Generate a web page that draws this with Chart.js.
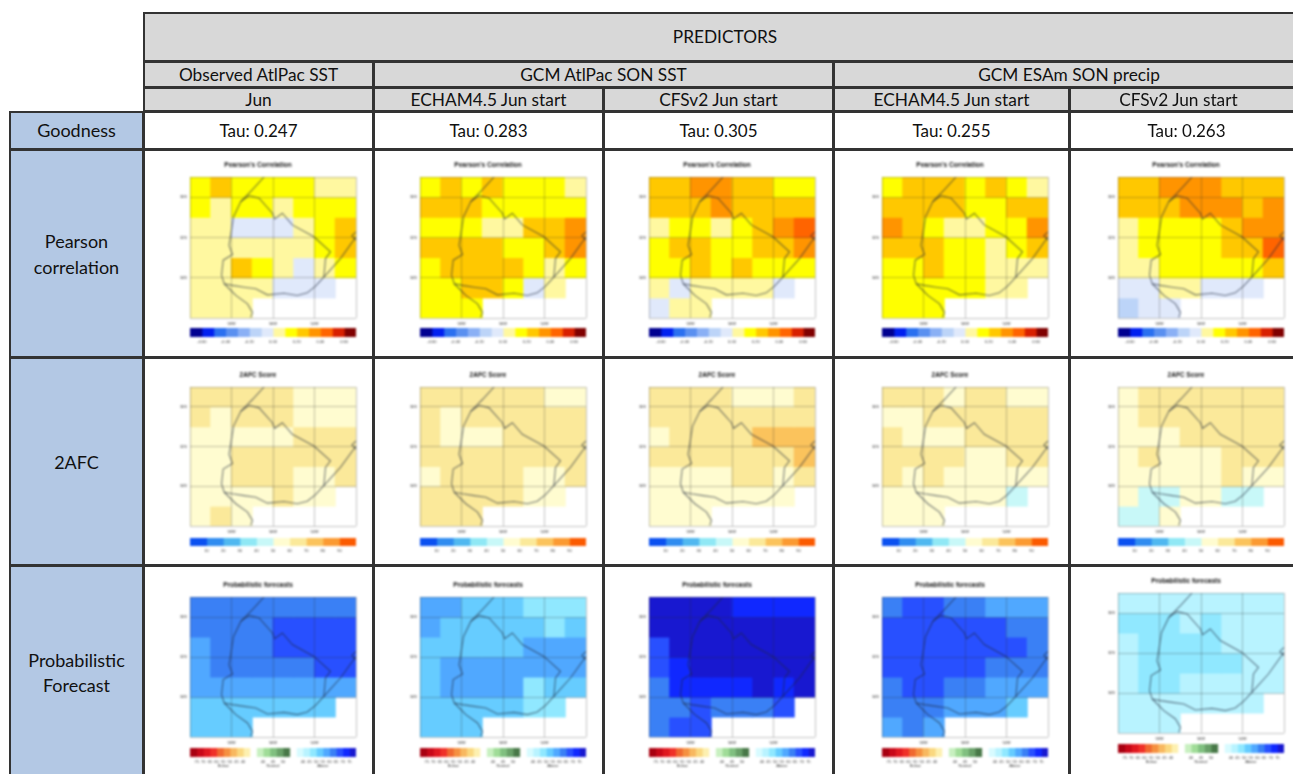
<!DOCTYPE html>
<html>
<head>
<meta charset="utf-8">
<title>Predictors</title>
<script src="https://cdn.jsdelivr.net/npm/chart.js@4"></script>
<style>
html, body { margin: 0; padding: 0; background: #fff; overflow: hidden; }
#page { position: absolute; left: 0; top: 0; width: 1293px; height: 774px; overflow: hidden; filter: blur(0.6px); font-family: Lato, "Open Sans", sans-serif; color: #111; }
#page div { position: absolute; box-sizing: border-box; display: flex; align-items: center; justify-content: center; text-align: center; }
#page span { position: relative; }
.hd { background: #d8d8d8; border: 2px solid #333; margin: -1px 0 0 -1px; font-size: 17.3px; }
.sd { background: #b3c8e4; border: 2px solid #333; margin: -1px 0 0 -1px; font-size: 18px; line-height: 25.5px; }
.ce { background: #fff; border: 2px solid #333; margin: -1px 0 0 -1px; font-size: 17px; }
canvas { position: absolute; filter: blur(0.8px); }
</style>
</head>
<body>
<div id="page"></div>
<script>
const N = null;

// table text
const groupNames = ['Observed AtlPac SST', 'GCM AtlPac SON SST', 'GCM ESAm SON precip'];
const startNames = ['Jun', 'ECHAM4.5 Jun start', 'CFSv2 Jun start', 'ECHAM4.5 Jun start', 'CFSv2 Jun start'];
const tauValues = ['Tau: 0.247', 'Tau: 0.283', 'Tau: 0.305', 'Tau: 0.255', 'Tau: 0.263'];

// map axes
const lonTicks = [-60, -58, -56, -54, -52];
const latTicks = [-36, -34, -32, -30, -29];
const lonLabels = ['', '58W', '56W', '54W', ''];
const latLabels = ['', '34S', '32S', '30S', ''];
const gridCols = ['60W', '59W', '58W', '57W', '56W', '55W', '54W', '53W'];
const gridRowTops = [-29, -30, -31, -32, -33, -34, -35];

// coastline and border, lon/lat
const borderWest = [[-56.43,-29],[-56.99,-29.63],[-57.55,-30.22],[-57.9,-30.97],[-57.98,-31.5],[-58.12,-32.4],[-57.95,-32.85],[-58.4,-33.13],[-58.48,-33.88],[-58.35,-34.3],[-57.95,-34.38],[-57.39,-34.47],[-56.83,-34.55],[-56.27,-34.85],[-55.47,-34.77],[-54.83,-34.88],[-54.35,-34.75],[-53.95,-34.42],[-53.55,-33.97],[-52.75,-33.05],[-52,-31.97]];
const borderNorth = [[-57.55,-30.22],[-57.15,-29.92],[-56.67,-30.05],[-56.03,-30.8],[-55.92,-31.08],[-55.55,-30.8],[-55.07,-31.38],[-54.03,-31.97],[-53.23,-32.72],[-53.47,-33.05],[-53.55,-33.97]];
const coastSouth = [[-58.35,-34.3],[-57.79,-34.88],[-57.23,-35.3],[-56.99,-35.72],[-57.07,-35.97]];
const lagoon = [[-52,-31.72],[-52.2,-31.92],[-52,-32.13]];
const outlines = [borderWest, borderNorth, coastSouth, lagoon];

// Pearson correlation per grid cell
const pearsonObs = [
  [.15,.25,.15,.15,.15,.15,.05,.05],
  [.15,.05,.15,.15,.05,.15,.15,.15],
  [.05,.05,-.05,-.05,-.05,.05,.15,.25],
  [.05,.05,.05,.05,.05,.05,.15,.25],
  [.05,.05,.25,.15,.05,-.05,.05,.15],
  [.05,.05,.05,.05,-.05,-.05,-.05,N],
  [.05,.05,.05,N,N,N,N,N]];
const pearsonEchamSst = [
  [.15,.25,.15,.25,.15,.15,.15,.05],
  [.25,.25,.25,.15,.15,.15,.15,.15],
  [.15,.15,.15,.05,.05,.25,.25,.35],
  [.25,.25,.25,.25,.15,.15,.25,.35],
  [.15,.25,.25,.25,.25,.15,.05,.15],
  [.15,.15,.25,.25,.15,-.05,.05,N],
  [.15,.15,.15,N,N,N,N,N]];
const pearsonCfsSst = [
  [.25,.25,.35,.35,.25,.25,.15,.15],
  [.25,.25,.25,.35,.25,.25,.25,.25],
  [.05,.15,.15,.05,.15,.25,.35,.45],
  [.15,.25,.25,.15,.15,.25,.25,.35],
  [.15,.15,.25,.15,.25,.15,.15,.15],
  [.05,-.05,.05,.05,.05,.05,-.05,N],
  [-.05,.05,.05,N,N,N,N,N]];
const pearsonEchamPrecip = [
  [.15,.25,.25,.25,.15,.25,.15,.05],
  [.25,.25,.25,.25,.15,.15,.25,.25],
  [.35,.25,.15,.05,.05,.15,.15,.35],
  [.25,.25,.25,.15,.15,.05,.15,.25],
  [.15,.15,.25,.15,.15,.05,.05,.05],
  [.15,.15,.15,.15,.15,.05,.05,N],
  [.15,.15,.15,N,N,N,N,N]];
const pearsonCfsPrecip = [
  [.25,.25,.35,.35,.35,.25,.25,.25],
  [.25,.25,.25,.35,.35,.35,.25,.35],
  [.05,.15,.15,.15,.15,.25,.35,.35],
  [.05,.15,.15,.15,.15,.25,.25,.45],
  [.05,.05,.15,.15,.15,.15,.15,.25],
  [-.05,-.05,.05,.05,-.05,-.05,-.05,N],
  [-.15,-.05,-.05,N,N,N,N,N]];

// 2AFC score per grid cell
const afcObs = [
  [65,65,65,65,65,55,55,55],
  [65,55,65,65,65,55,55,55],
  [55,55,55,55,55,65,65,65],
  [55,55,65,65,65,65,65,65],
  [55,55,65,65,65,55,55,65],
  [55,55,55,55,65,55,55,N],
  [55,65,55,N,N,N,N,N]];
const afcEchamSst = [
  [65,65,65,65,65,65,55,55],
  [65,55,65,65,65,65,65,65],
  [65,55,55,55,65,65,65,65],
  [65,65,65,65,65,65,65,65],
  [55,65,65,65,65,55,55,65],
  [65,65,65,65,65,55,55,N],
  [65,65,65,N,N,N,N,N]];
const afcCfsSst = [
  [65,65,65,65,55,55,55,65],
  [65,65,65,65,65,65,65,65],
  [55,65,65,65,65,75,75,75],
  [65,65,65,65,65,65,65,75],
  [55,55,55,55,65,65,55,65],
  [55,55,55,55,55,55,55,N],
  [55,55,55,N,N,N,N,N]];
const afcEchamPrecip = [
  [65,65,65,55,65,65,55,55],
  [55,55,65,65,65,65,65,65],
  [65,55,55,55,65,65,65,65],
  [65,65,65,65,55,55,65,65],
  [65,55,65,55,55,55,55,55],
  [55,55,55,55,55,55,45,N],
  [55,55,55,N,N,N,N,N]];
const afcCfsPrecip = [
  [55,65,65,65,65,65,65,65],
  [55,65,65,65,65,65,65,65],
  [55,55,55,65,65,65,65,65],
  [55,65,55,55,55,65,65,65],
  [55,55,55,55,55,65,55,55],
  [55,45,45,55,55,45,45,N],
  [45,45,55,N,N,N,N,N]];

// above-normal probability per grid cell
const probObs = [
  [62,62,62,62,62,62,62,62],
  [62,62,62,62,67,67,67,67],
  [57,62,62,62,67,67,67,67],
  [57,62,62,62,62,62,67,67],
  [57,57,57,57,57,57,57,57],
  [52,52,52,52,52,52,52,N],
  [52,52,52,N,N,N,N,N]];
const probEchamSst = [
  [57,57,52,52,52,47,47,47],
  [57,52,52,52,52,52,47,52],
  [52,52,52,52,52,57,57,57],
  [52,57,57,57,57,57,57,57],
  [52,57,57,57,57,47,52,52],
  [52,52,52,52,52,47,47,N],
  [52,52,52,N,N,N,N,N]];
const probCfsSst = [
  [77,77,77,77,72,72,72,72],
  [77,77,77,77,77,77,77,77],
  [67,77,77,77,77,77,77,77],
  [67,72,77,77,77,77,77,77],
  [62,72,72,72,72,77,72,77],
  [62,62,67,62,62,62,67,N],
  [62,67,67,N,N,N,N,N]];
const probEchamPrecip = [
  [62,67,67,62,62,57,57,57],
  [67,67,67,67,67,67,62,62],
  [67,67,67,67,67,67,67,62],
  [67,67,67,67,67,62,62,62],
  [62,67,67,62,62,57,57,57],
  [62,62,62,57,57,57,52,N],
  [57,62,57,N,N,N,N,N]];
const probCfsPrecip = [
  [42,42,42,42,42,42,42,42],
  [47,47,47,42,47,42,42,42],
  [42,47,47,47,47,42,42,42],
  [42,47,47,47,47,47,42,42],
  [42,47,47,42,42,42,42,42],
  [42,42,42,42,42,42,42,N],
  [42,42,42,N,N,N,N,N]];

// colour keys
const pearsonEdges = [-.7,-.6,-.5,-.4,-.3,-.2,-.1,0,.1,.2,.3,.4,.5,.6,.7];
const pearsonColors = ['#000090','#0020f0','#2a70f0','#5a90f0','#8ab0f5','#bcd4f8','#e0e9fb','#fff8a0','#ffff00','#ffc800','#ff9400','#ff6400','#d82000','#800000'];
const pearsonTickValues = [-.6,-.4,-.2,0,.2,.4,.6];
const pearsonTickLabels = ['-0.60','-0.40','-0.20','0.00','0.20','0.40','0.60'];

const afcEdges = [0,10,20,30,40,50,60,70,80,90,100];
const afcColors = ['#0a50f0','#2f8cf0','#50b8f0','#90e8f5','#c8f8f8','#fffcd0','#fbe99a','#fbc35c','#fb9a32','#fb5a00'];
const afcTickValues = [10,20,30,40,50,60,70,80,90];
const afcTickLabels = ['10','20','30','40','50','60','70','80','90'];

// probability key is laid out by swatch position: below, normal, above
const probEdges = [0,1,2,3,4,5,6,7,8,9,10,11,12,13,14,15,16,17,18,19,20,21,22,23,24,25];
const probColors = ['#a80010','#c80818','#e01820','#f03028','#f06830','#f59040','#f8b860','#fad880','#fdf0b0','#ffffff','#c8f0c0','#a0dc98','#80c080','#68a068','#487848','#ffffff','#d8fbff','#b8f3ff','#90e8ff','#66ccff','#50a8ff','#3a80f5','#2850ff','#1028ff','#1818d0'];
const probTickValues = [1,2,3,4,5,6,7,8,11,12.5,14,17,18,19,20,21,22,23,24];
const probTickLabels = ['75','70','65','60',['55','Below'],'50','45','40','40',['45','Normal'],'50','40','45','50',['55','Above'],'60','65','70','75'];
const probBreaks = [40,45,50,55,60,65,70,75];

const pearsonKey = { title: "Pearson's Correlation", edges: pearsonEdges, colors: pearsonColors, tickValues: pearsonTickValues, tickLabels: pearsonTickLabels,
  colorOf: v => pearsonColors[Math.floor((v + .7) / .1)] };
const afcKey = { title: '2AFC Score', edges: afcEdges, colors: afcColors, tickValues: afcTickValues, tickLabels: afcTickLabels,
  colorOf: v => afcColors[Math.floor(v / 10)] };
const probKey = { title: 'Probabilistic forecasts', edges: probEdges, colors: probColors, tickValues: probTickValues, tickLabels: probTickLabels,
  colorOf: v => probColors[17 + probBreaks.filter(b => v >= b).length - 1] };

const mapRows = [
  { key: pearsonKey, maps: [pearsonObs, pearsonEchamSst, pearsonCfsSst, pearsonEchamPrecip, pearsonCfsPrecip], top: [177,177,177,177,177], h: 141, cbTop: [328,328,328,328,328], cbH: 9 },
  { key: afcKey, maps: [afcObs, afcEchamSst, afcCfsSst, afcEchamPrecip, afcCfsPrecip], top: [387,387,387,387,387], h: 139, cbTop: [538,538,538,538,538], cbH: 8 },
  { key: probKey, maps: [probObs, probEchamSst, probCfsSst, probEchamPrecip, probCfsPrecip], top: [597,597,597,597,593], h: 140, cbTop: [748,748,748,748,744], cbH: 9 }
];
const plotLeft = [190, 420, 649, 882, 1118];
const plotW = 166;
const sidePad = 30;

const page = document.getElementById('page');

function box(cls, x, y, w, h, html) {
  const d = document.createElement('div');
  d.className = cls;
  d.style.cssText = `left:${x}px;top:${y}px;width:${w}px;height:${h}px;`;
  d.innerHTML = html;
  page.appendChild(d);
}

function shifted(text, dx, dy) {
  return `<span style="left:${dx}px;top:${dy || 0}px">${text}</span>`;
}

function buildTable() {
  const colX = [144, 374, 604, 834, 1070, 1320];
  box('hd', 144, 13, 1176, 50, shifted('PREDICTORS', -6, -1));
  box('hd', 144, 62, 231, 27, groupNames[0]);
  box('hd', 374, 62, 461, 27, groupNames[1]);
  box('hd', 834, 62, 486, 27, shifted(groupNames[2], -7, 0));
  startNames.forEach((s, i) => {
    const w = colX[i + 1] - colX[i] + 1;
    box('hd', colX[i], 88, w, 25, i === 4 ? shifted(s, -16, 0) : s);
    box('ce', colX[i], 112, w, 39, i === 4 ? shifted(tauValues[i], -8, 0) : tauValues[i]);
    box('ce', colX[i], 150, w, 209, '');
    box('ce', colX[i], 358, w, 209, '');
    box('ce', colX[i], 566, w, 240, '');
  });
  box('sd', 10, 112, 135, 39, 'Goodness');
  box('sd', 10, 150, 135, 209, shifted('Pearson<br>correlation', 0, 1));
  box('sd', 10, 358, 135, 209, shifted('2AFC', 0, 1));
  box('sd', 10, 566, 135, 240, shifted('Probabilistic<br>Forecast', 0, -12));
}

function addCanvas(x, y, w, h) {
  const c = document.createElement('canvas');
  c.width = w;
  c.height = h;
  c.style.left = x + 'px';
  c.style.top = y + 'px';
  c.style.width = w + 'px';
  c.style.height = h + 'px';
  page.appendChild(c);
  return c;
}

function drawMap(x, top, h, grid, key) {
  const titleH = 16, axisH = 12;
  const canvas = addCanvas(x - sidePad, top - titleH, plotW + sidePad * 2, h + titleH + axisH);
  const cells = gridRowTops.map((lat, r) => ({
    type: 'bar',
    xAxisID: 'col',
    yAxisID: 'lat',
    order: 2,
    grouped: false,
    barPercentage: 1,
    categoryPercentage: 1,
    borderWidth: 0,
    inflateAmount: 0.5,
    data: grid[r].map(v => v === null ? null : [lat - 1, lat]),
    backgroundColor: grid[r].map(v => v === null ? 'rgba(0,0,0,0)' : key.colorOf(v))
  }));
  const lines = outlines.map(path => ({
    type: 'line',
    xAxisID: 'lon',
    yAxisID: 'lat',
    order: 1,
    data: path.map(p => ({ x: p[0], y: p[1] })),
    borderColor: 'rgba(30,40,60,0.6)',
    borderWidth: 1.1,
    pointRadius: 0,
    tension: 0
  }));
  new Chart(canvas, {
    data: { labels: gridCols, datasets: cells.concat(lines) },
    options: {
      responsive: false,
      animation: false,
      layout: { padding: { left: 0, right: sidePad } },
      plugins: {
        legend: { display: false },
        tooltip: { enabled: false },
        title: { display: true, text: key.title, color: '#111', font: { size: 6.5, weight: 'bold', family: 'Liberation Sans', lineHeight: 1.2 }, padding: { top: 0, bottom: 8.2 } }
      },
      scales: {
        col: { type: 'category', display: false, offset: true },
        lon: {
          type: 'linear', position: 'bottom', min: -60, max: -52,
          grid: { color: 'rgba(40,40,40,0.28)', z: 1, drawTicks: false },
          border: { display: false },
          afterBuildTicks: s => { s.ticks = lonTicks.map(v => ({ value: v })); },
          afterFit: s => { s.height = axisH; },
          ticks: { autoSkip: false, maxRotation: 0, padding: 3, color: '#333', font: { size: 4, family: 'Liberation Sans' },
            callback: v => lonLabels[lonTicks.indexOf(v)] }
        },
        lat: {
          type: 'linear', position: 'left', min: -36, max: -29,
          grid: { color: 'rgba(40,40,40,0.28)', z: 1, drawTicks: false },
          border: { display: false },
          afterBuildTicks: s => { s.ticks = latTicks.map(v => ({ value: v })); },
          afterFit: s => { s.width = sidePad; },
          ticks: { autoSkip: false, padding: 3, color: '#333', font: { size: 4, family: 'Liberation Sans' },
            callback: v => latLabels[latTicks.indexOf(v)] }
        }
      }
    }
  });
}

function drawColorbar(x, top, barH, key) {
  const axisH = 16;
  const canvas = addCanvas(x - sidePad, top, plotW + sidePad * 2, barH + axisH);
  new Chart(canvas, {
    type: 'bar',
    data: {
      labels: ['key'],
      datasets: key.colors.map((c, i) => ({
        data: [[key.edges[i], key.edges[i + 1]]],
        backgroundColor: c,
        grouped: false,
        barPercentage: 1,
        categoryPercentage: 1,
        inflateAmount: 0.5
      }))
    },
    options: {
      indexAxis: 'y',
      responsive: false,
      animation: false,
      layout: { padding: { left: sidePad, right: sidePad } },
      plugins: { legend: { display: false }, tooltip: { enabled: false } },
      scales: {
        y: { display: false },
        x: {
          type: 'linear', min: key.edges[0], max: key.edges[key.edges.length - 1],
          grid: { display: false, drawTicks: false, tickLength: 0 },
          border: { display: false },
          afterBuildTicks: s => { s.ticks = key.tickValues.map(v => ({ value: v })); },
          afterFit: s => { s.height = axisH; },
          ticks: { autoSkip: false, maxRotation: 0, padding: 2, color: '#333', font: { size: 4, family: 'Liberation Sans' },
            callback: v => key.tickLabels[key.tickValues.indexOf(v)] }
        }
      }
    }
  });
}

buildTable();
mapRows.forEach(row => {
  row.maps.forEach((grid, i) => {
    drawMap(plotLeft[i], row.top[i], row.h, grid, row.key);
    drawColorbar(plotLeft[i], row.cbTop[i], row.cbH, row.key);
  });
});
</script>
</body>
</html>
